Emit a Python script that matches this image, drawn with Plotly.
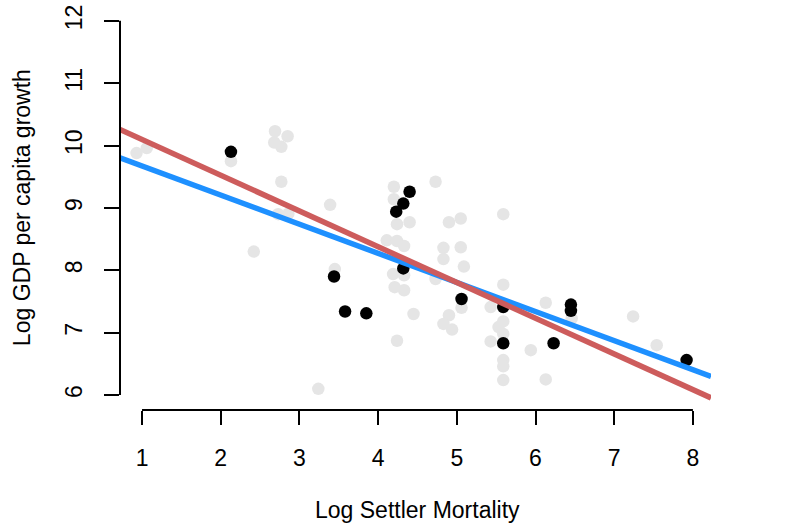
import plotly.graph_objects as go

# Background sample (gray points)
gray_x = [0.93, 1.06, 2.13, 2.69, 2.85, 2.68, 2.77, 2.77, 2.73, 2.86, 2.42, 3.24, 3.39, 3.45,
          4.20, 4.73, 4.20, 4.24, 4.40, 4.90, 5.05, 5.59, 4.11, 4.24, 4.33, 4.83, 5.05, 4.83,
          5.09, 4.19, 4.33, 4.73, 4.21, 4.33, 5.59, 5.06, 5.43, 4.45, 4.90, 4.83, 4.94, 5.59,
          5.53, 5.59, 4.24, 5.43, 5.94, 5.59, 5.59, 5.59, 6.13, 6.13, 6.46, 7.24, 7.54]
gray_y = [9.88, 9.96, 9.75, 10.23, 10.15, 10.05, 9.98, 9.42, 8.90, 8.91, 8.30, 6.10, 9.05, 8.02,
          9.34, 9.42, 9.14, 8.74, 8.77, 8.77, 8.83, 8.90, 8.48, 8.47, 8.39, 8.36, 8.37, 8.18,
          8.06, 7.94, 7.92, 7.86, 7.73, 7.68, 7.77, 7.40, 7.41, 7.30, 7.28, 7.14, 7.05, 7.18,
          7.09, 6.98, 6.87, 6.86, 6.72, 6.56, 6.46, 6.24, 7.48, 6.25, 7.23, 7.26, 6.80]

# Highlighted subsample (black points)
black_x = [2.13, 3.44, 3.58, 3.85, 4.40, 4.32, 4.23, 4.32, 5.06, 5.59, 5.59, 6.23, 6.45, 6.45, 7.92]
black_y = [9.90, 7.90, 7.34, 7.31, 9.26, 9.07, 8.94, 8.03, 7.54, 7.41, 6.83, 6.83, 7.45, 7.35, 6.56]

# Fitted lines (intercept, slope)
fit_blue = [10.14, -0.467]
fit_red = [10.67, -0.573]

x_range = [0.72, 8.23]
y_range = [5.76, 12.222]
x_ticks = [1, 2, 3, 4, 5, 6, 7, 8]
y_ticks = [6, 7, 8, 9, 10, 11, 12]

FONT = "Liberation Sans"
FS = 23

fig = go.Figure()
fig.add_trace(go.Scatter(x=gray_x, y=gray_y, mode="markers",
                         marker=dict(color="#E5E5E5", size=12.5, line=dict(width=0)),
                         showlegend=False, hoverinfo="skip"))
fig.add_trace(go.Scatter(x=black_x, y=black_y, mode="markers",
                         marker=dict(color="black", size=12.5, line=dict(width=0)),
                         showlegend=False))
for fit, col in [(fit_blue, "#1E90FF"), (fit_red, "#CD5C5C")]:
    xs = x_range
    ys = [fit[0] + fit[1] * v for v in xs]
    fig.add_trace(go.Scatter(x=xs, y=ys, mode="lines",
                             line=dict(color=col, width=5.5),
                             showlegend=False))

# Axis lines spanning only the tick range (R style)
fig.add_shape(type="line", xref="x", yref="paper", x0=x_ticks[0], x1=x_ticks[-1], y0=0, y1=0,
              line=dict(color="black", width=2))
fig.add_shape(type="line", xref="paper", yref="y", x0=0, x1=0, y0=y_ticks[0], y1=y_ticks[-1],
              line=dict(color="black", width=2))

fig.add_annotation(text="Log Settler Mortality", xref="x", yref="paper", x=4.5, y=-0.249,
                   showarrow=False, font=dict(family=FONT, size=FS, color="black"),
                   xanchor="center", yanchor="middle")
fig.add_annotation(text="Log GDP per capita growth", xref="paper", yref="y", x=-0.1655, y=9,
                   showarrow=False, textangle=-90, font=dict(family=FONT, size=FS, color="black"),
                   xanchor="center", yanchor="middle")

fig.update_layout(
    width=791, height=525,
    margin=dict(l=120, r=80, t=5, b=115),
    plot_bgcolor="white", paper_bgcolor="white",
    font=dict(family=FONT, size=FS, color="black"),
    xaxis=dict(range=x_range, tickvals=x_ticks, ticks="outside", ticklen=14, tickwidth=2,
               tickcolor="black", showgrid=False, zeroline=False, showline=False,
               ticklabelstandoff=13, tickfont=dict(family=FONT, size=FS)),
    yaxis=dict(range=y_range, tickvals=y_ticks, ticks="outside", ticklen=15, tickwidth=2,
               tickcolor="black", showgrid=False, zeroline=False, showline=False,
               tickangle=-90, ticklabelstandoff=13, tickfont=dict(family=FONT, size=FS)),
)

fig.write_html("out.html", config={"displayModeBar": False},
               post_script="document.body.style.margin='0';")
